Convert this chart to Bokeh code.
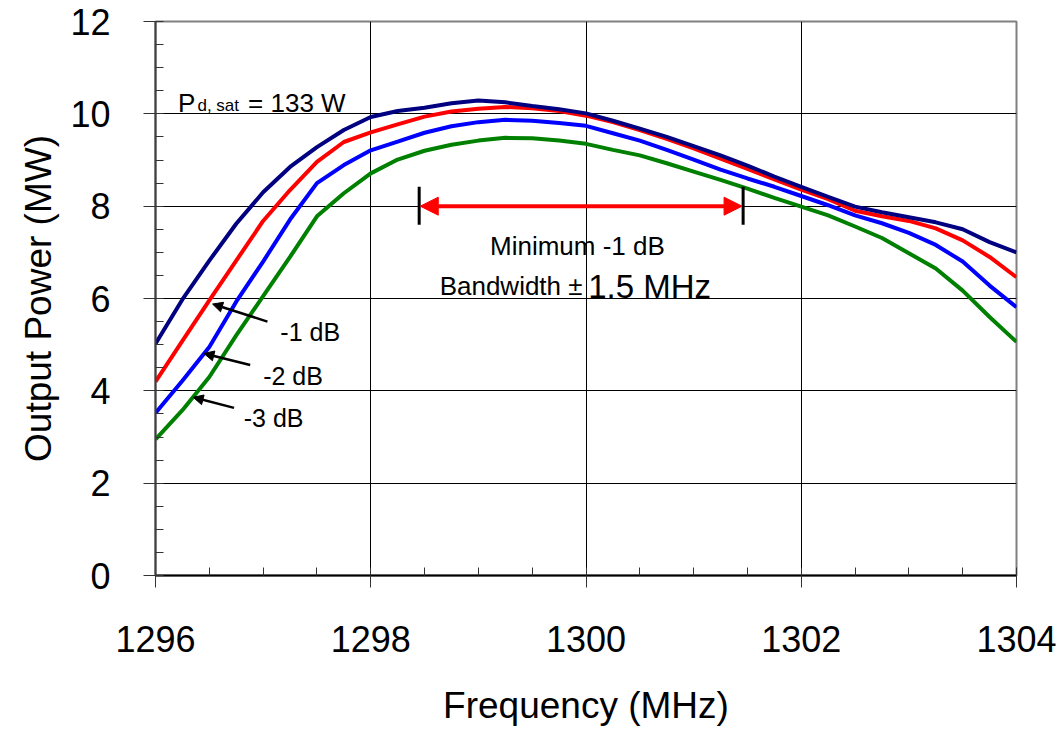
from bokeh.plotting import figure
from bokeh.models import Range1d, SingleIntervalTicker, Arrow, NormalHead
from bokeh.core.properties import value
from bokeh.embed import file_html
from bokeh.resources import INLINE

# ---- data ----
freq = [1296.00, 1296.25, 1296.50, 1296.75, 1297.00, 1297.25, 1297.50, 1297.75,
        1298.00, 1298.25, 1298.50, 1298.75, 1299.00, 1299.25, 1299.50, 1299.75,
        1300.00, 1300.25, 1300.50, 1300.75, 1301.00, 1301.25, 1301.50, 1301.75,
        1302.00, 1302.25, 1302.50, 1302.75, 1303.00, 1303.25, 1303.50, 1303.75, 1304.00]

p_0db = [5.02, 5.98, 6.82, 7.62, 8.30, 8.85, 9.28, 9.65,
         9.93, 10.06, 10.13, 10.23, 10.29, 10.25, 10.17, 10.10,
         10.01, 9.85, 9.68, 9.50, 9.30, 9.10, 8.88, 8.64,
         8.42, 8.20, 7.99, 7.87, 7.76, 7.65, 7.50, 7.22, 7.00]

p_1db = [4.20, 5.08, 5.96, 6.82, 7.68, 8.35, 8.96, 9.39,
         9.60, 9.77, 9.94, 10.05, 10.11, 10.15, 10.12, 10.06,
         9.96, 9.82, 9.65, 9.46, 9.25, 9.03, 8.81, 8.58,
         8.36, 8.15, 7.90, 7.78, 7.68, 7.52, 7.26, 6.90, 6.46]

p_2db = [3.52, 4.22, 4.95, 5.93, 6.80, 7.71, 8.50, 8.89,
         9.21, 9.40, 9.59, 9.73, 9.82, 9.87, 9.85, 9.80,
         9.74, 9.58, 9.42, 9.22, 9.01, 8.79, 8.60, 8.42,
         8.22, 8.02, 7.80, 7.63, 7.42, 7.16, 6.80, 6.28, 5.81]

p_3db = [2.95, 3.58, 4.30, 5.20, 6.05, 6.90, 7.78, 8.28,
         8.71, 9.01, 9.20, 9.33, 9.42, 9.48, 9.47, 9.42,
         9.35, 9.22, 9.10, 8.93, 8.75, 8.57, 8.38, 8.18,
         7.99, 7.80, 7.56, 7.31, 6.98, 6.65, 6.17, 5.60, 5.06]

series_colors = ["#000080", "#FF0000", "#0000FF", "#008000"]

# bandwidth marker
bw_start = 1298.45
bw_end = 1301.46
bw_level = 8.0
bw_bar_lo = 7.60
bw_bar_hi = 8.42

# labels for curves
db_labels = ["-1 dB", "-2 dB", "-3 dB"]
db_text_x = [1297.16, 1297.00, 1296.82]
db_text_y = [5.28, 4.32, 3.41]
db_tail_x = [1297.04, 1296.88, 1296.73]
db_tail_y = [5.50, 4.56, 3.63]
db_head_x = [1296.53, 1296.45, 1296.35]
db_head_y = [5.88, 4.81, 3.86]

FONT = value("Liberation Sans")

p = figure(width=1061, height=728, output_backend="svg", toolbar_location=None,
           x_range=Range1d(1296, 1304), y_range=Range1d(0, 12),
           min_border_left=155, min_border_right=45, min_border_top=21, min_border_bottom=146)

p.background_fill_color = "white"
p.border_fill_color = "white"
p.outline_line_color = "#808080"
p.outline_line_width = 2

p.xaxis.ticker = SingleIntervalTicker(interval=2, num_minor_ticks=4)
p.yaxis.ticker = SingleIntervalTicker(interval=2, num_minor_ticks=4)

for ax in (p.xaxis[0], p.yaxis[0]):
    ax.axis_line_color = "#000000"
    ax.axis_line_width = 2
    ax.major_tick_in = 0
    ax.major_tick_out = 12
    ax.minor_tick_in = 8
    ax.minor_tick_out = 0
    ax.major_tick_line_color = "#333333"
    ax.minor_tick_line_color = "#333333"
    ax.major_label_text_font = "Liberation Sans"
    ax.major_label_text_font_size = "36px"
    ax.major_label_text_color = "black"
    ax.axis_label_text_font = "Liberation Sans"
    ax.axis_label_text_font_size = "37px"
    ax.axis_label_text_font_style = "normal"
    ax.axis_label_text_color = "black"

p.yaxis.axis_line_color = "#404040"
p.xaxis.axis_label = "Frequency (MHz)"
p.yaxis.axis_label = "Output Power (MW)"
p.xaxis.major_label_standoff = 38
p.yaxis.major_label_standoff = 33
p.xaxis.axis_label_standoff = 30
p.yaxis.axis_label_standoff = 8

p.xgrid.grid_line_color = "#000000"
p.ygrid.grid_line_color = "#000000"
p.xgrid.grid_line_width = 1
p.ygrid.grid_line_width = 1

for vals, col in zip([p_3db, p_2db, p_1db, p_0db], series_colors[::-1]):
    p.line(freq, vals, line_color=col, line_width=4)

# bandwidth arrow
p.segment(x0=[bw_start, bw_end], y0=[bw_bar_lo, bw_bar_lo], x1=[bw_start, bw_end], y1=[bw_bar_hi, bw_bar_hi],
          line_color="black", line_width=3)
p.add_layout(Arrow(start=NormalHead(size=18, fill_color="#FF0000", line_color="#FF0000"),
                   end=NormalHead(size=18, fill_color="#FF0000", line_color="#FF0000"),
                   x_start=bw_start + 0.01, y_start=bw_level, x_end=bw_end - 0.01, y_end=bw_level,
                   line_color="#FF0000", line_width=4))

# dB arrows and labels
for tx, ty, hx, hy in zip(db_tail_x, db_tail_y, db_head_x, db_head_y):
    p.add_layout(Arrow(end=NormalHead(size=10, fill_color="black", line_color="black"),
                       x_start=tx, y_start=ty, x_end=hx, y_end=hy,
                       line_color="black", line_width=2.5))
p.text(x=db_text_x, y=db_text_y, text=db_labels, text_font=FONT, text_font_size="25px",
       text_baseline="alphabetic", text_align="left", text_color="black")

# annotation texts
p.text(x=[1299.92], y=[7.13], text=["Minimum -1 dB"], text_font=FONT, text_font_size="26px",
       text_baseline="alphabetic", text_align="center", text_color="black")
p.text(x=[1298.64], y=[6.27], text=["Bandwidth \u00b1"], text_font=FONT, text_font_size="26px",
       text_baseline="alphabetic", text_align="left", text_color="black")
p.text(x=[1300.02], y=[6.27], text=["1.5 MHz"], text_font=FONT, text_font_size="33px",
       text_baseline="alphabetic", text_align="left", text_color="black")

p.text(x=[1296.21], y=[10.24], text=["P"], text_font=FONT, text_font_size="26px",
       text_baseline="alphabetic", text_align="left", text_color="black")
p.text(x=[1296.39], y=[10.19], text=["d, sat"], text_font=FONT, text_font_size="17px",
       text_baseline="alphabetic", text_align="left", text_color="black")
p.text(x=[1296.86], y=[10.24], text=["= 133 W"], text_font=FONT, text_font_size="26px",
       text_baseline="alphabetic", text_align="left", text_color="black")

open("out.html", "w").write(file_html(p, INLINE))
